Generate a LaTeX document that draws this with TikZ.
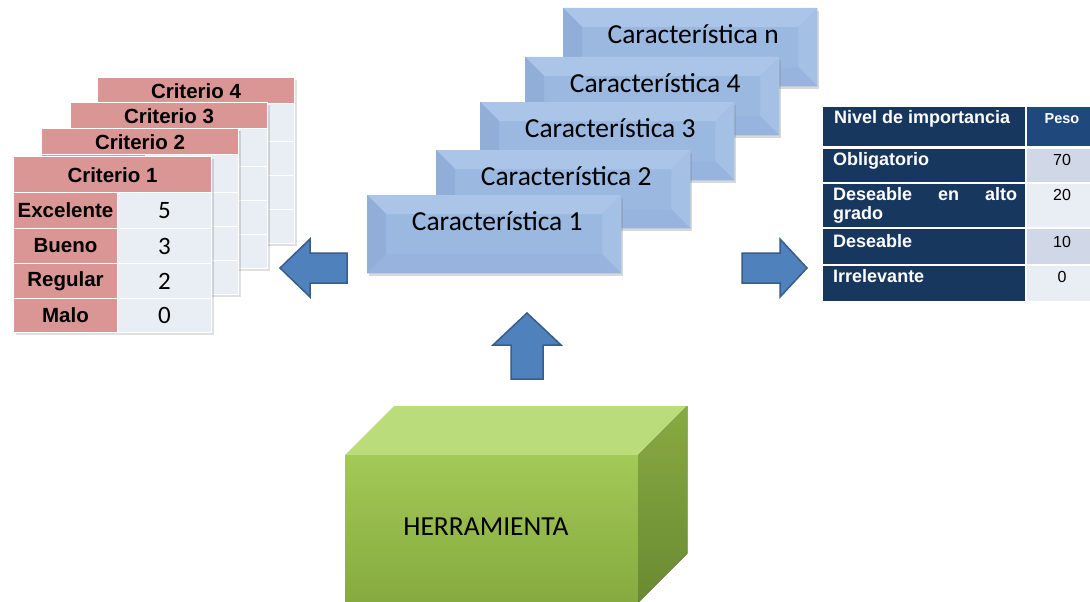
\documentclass[tikz,border=0pt]{standalone}
\usepackage{fontspec}
\setmainfont{Liberation Sans}
\newfontfamily\calib{Carlito}
\usetikzlibrary{calc,shadows}

\definecolor{pinkcell}{HTML}{D99694}
\definecolor{palecell}{HTML}{E9EDF4}
\definecolor{navycell}{HTML}{17375E}
\definecolor{navyhead}{HTML}{1F497D}
\definecolor{rowdark}{HTML}{D0D8E8}
\definecolor{rowlight}{HTML}{E9EDF4}
\definecolor{arrowfill}{HTML}{4F81BD}
\definecolor{arrowline}{HTML}{385D8A}
\definecolor{featmain}{HTML}{9BB9E0}
\definecolor{feattop}{HTML}{ABC5E8}
\definecolor{featleft}{HTML}{90AED7}
\definecolor{featright}{HTML}{A4C0E5}
\definecolor{featbottom}{HTML}{96B4DD}
\definecolor{greentop}{HTML}{BBDC7A}
\definecolor{greenfronta}{HTML}{A3C957}
\definecolor{greenfrontb}{HTML}{86AA3F}
\definecolor{greensidea}{HTML}{88AA42}
\definecolor{greensideb}{HTML}{6A8A32}

\tikzset{
  cellbox/.style={anchor=north west, inner sep=0pt, draw=white, line width=1pt},
  pinkbox/.style={cellbox, fill=pinkcell},
  palebox/.style={cellbox, fill=palecell},
  hdrfont/.style={font=\bfseries\fontsize{20.5}{24}\selectfont},
  lblfont/.style={font=\bfseries\fontsize{20.5}{24}\selectfont},
  numfont/.style={font=\calib\fontsize{25}{29}\selectfont},
  tshadow/.style={fill=black, opacity=0.12},
  featbody/.style={anchor=north west, inner sep=0pt, minimum width=254pt, minimum height=78pt,
    fill=featmain, drop shadow={shadow xshift=2pt, shadow yshift=-3pt, opacity=0.3}},
  feattext/.style={font=\calib\fontsize{27.5}{32}\selectfont, inner sep=0pt},
  blockarrow/.style={fill=arrowfill, draw=arrowline, line width=1.5pt, line join=miter},
  rcell/.style={anchor=north west, inner sep=0pt},
  rtext/.style={anchor=base west, inner sep=0pt, text=white, font=\bfseries\fontsize{18}{20}\selectfont},
  rnum/.style={anchor=base, inner sep=0pt, font=\fontsize{16}{19}\selectfont},
}

% criterion table seen behind the front one
\newcommand\backtable[4]{%
  \begin{scope}[shift={(#2,#3)}]
    \fill[tshadow] (3,3) rectangle (200,169);
    \node[pinkbox, minimum width=197pt, minimum height=26pt] (#1h) at (0,0) {};
    \node[hdrfont] at ($(#1h.center)+(0,1)$) {#4};
    \node[pinkbox, minimum width=104pt, minimum height=38pt] (#1a) at (0,26) {};
    \node[palebox, minimum width=93pt, minimum height=38pt] (#1av) at (104,26) {};
    \node[pinkbox, minimum width=104pt, minimum height=34pt] (#1b) at (0,64) {};
    \node[palebox, minimum width=93pt, minimum height=34pt] (#1bv) at (104,64) {};
    \node[pinkbox, minimum width=104pt, minimum height=34pt] (#1c) at (0,98) {};
    \node[palebox, minimum width=93pt, minimum height=34pt] (#1cv) at (104,98) {};
    \node[pinkbox, minimum width=104pt, minimum height=34pt] (#1d) at (0,132) {};
    \node[palebox, minimum width=93pt, minimum height=34pt] (#1dv) at (104,132) {};
  \end{scope}}

% bevelled feature box
\newcommand\featurebox[4]{%
  \node[featbody] (#1) at (#2,#3) {};
  \fill[feattop] (#1.north west) -- (#1.north east) -- ($(#1.north east)+(-19,19)$) -- ($(#1.north west)+(19,19)$) -- cycle;
  \fill[featleft] (#1.north west) -- ($(#1.north west)+(19,19)$) -- ($(#1.south west)+(19,-19)$) -- (#1.south west) -- cycle;
  \fill[featright] (#1.north east) -- (#1.south east) -- ($(#1.south east)+(-19,-19)$) -- ($(#1.north east)+(-19,19)$) -- cycle;
  \fill[featbottom] (#1.south west) -- (#1.south east) -- ($(#1.south east)+(-19,-19)$) -- ($(#1.south west)+(19,-19)$) -- cycle;
  \node[feattext] (#1t) at ($(#1.north)+(3,26)$) {#4};}

\begin{document}
\begin{tikzpicture}[x=1pt, y=-1pt]
\useasboundingbox[fill=white] (0,0) rectangle (1090,602);

% ---- criterion tables ----
\backtable{crit4}{97}{77}{Criterio 4}
\backtable{crit3}{70}{102}{Criterio 3}
\backtable{crit2}{41}{128}{Criterio 2}

\begin{scope}[shift={(13,156)}]
  \fill[tshadow] (3,3) rectangle (201,179);
  \node[pinkbox, minimum width=198pt, minimum height=36pt] (c1h) at (0,0) {};
  \node[hdrfont] (c1ht) at ($(c1h.center)+(0,1)$) {Criterio 1};
  \node[pinkbox, minimum width=104pt, minimum height=36pt] (c1a) at (0,36) {};
  \node[palebox, minimum width=94pt, minimum height=36pt] (c1av) at (104,36) {};
  \node[pinkbox, minimum width=104pt, minimum height=35pt] (c1b) at (0,72) {};
  \node[palebox, minimum width=94pt, minimum height=35pt] (c1bv) at (104,72) {};
  \node[pinkbox, minimum width=104pt, minimum height=35pt] (c1c) at (0,107) {};
  \node[palebox, minimum width=94pt, minimum height=35pt] (c1cv) at (104,107) {};
  \node[pinkbox, minimum width=104pt, minimum height=34pt] (c1d) at (0,142) {};
  \node[palebox, minimum width=94pt, minimum height=34pt] (c1dv) at (104,142) {};
  \node[lblfont] (l1) at (c1a.center) {Excelente};
  \node[lblfont] (l2) at (c1b.center) {Bueno};
  \node[lblfont] (l3) at (c1c.center) {Regular};
  \node[lblfont] (l4) at (c1d.center) {Malo};
  \node[numfont] (n1) at (c1av.center) {5};
  \node[numfont] (n2) at (c1bv.center) {3};
  \node[numfont] (n3) at (c1cv.center) {2};
  \node[numfont] (n4) at (c1dv.center) {0};
\end{scope}

% ---- feature boxes ----
\featurebox{featn}{563}{8}{Característica n}
\featurebox{feat4}{525}{57}{Característica 4}
\featurebox{feat3}{480}{102}{Característica 3}
\featurebox{feat2}{436}{150}{Característica 2}
\featurebox{feat1}{367}{195}{Característica 1}

% ---- importance table ----
\node[rcell, fill=navycell, minimum width=202pt, minimum height=39pt] (hl) at (823,107) {};
\node[rcell, fill=navyhead, minimum width=63pt, minimum height=39pt] (hr) at (1027,107) {};
\node[rcell, fill=navycell, minimum width=202pt, minimum height=33pt] (r1l) at (823,149) {};
\node[rcell, fill=rowdark, minimum width=63pt, minimum height=33pt] (r1r) at (1027,149) {};
\node[rcell, fill=navycell, minimum width=202pt, minimum height=43pt] (r2l) at (823,184) {};
\node[rcell, fill=rowlight, minimum width=63pt, minimum height=43pt] (r2r) at (1027,184) {};
\node[rcell, fill=navycell, minimum width=202pt, minimum height=35pt] (r3l) at (823,229) {};
\node[rcell, fill=rowdark, minimum width=63pt, minimum height=35pt] (r3r) at (1027,229) {};
\node[rcell, fill=navycell, minimum width=202pt, minimum height=35pt] (r4l) at (823,266) {};
\node[rcell, fill=rowlight, minimum width=63pt, minimum height=35pt] (r4r) at (1027,266) {};

\node[rtext] (ht) at (834,123) {Nivel de importancia};
\node[rnum, text=white, font=\bfseries\fontsize{14.5}{17}\selectfont] (pt) at (1062,123) {Peso};
\node[rtext] (t1) at (833,165) {Obligatorio};
\node[rtext, anchor=north west, text width=184pt, align=left] (t2) at (833,187) {Deseable\hfill en\hfill alto\\[-1pt]grado};
\node[rtext] (t3) at (833,247) {Deseable};
\node[rtext] (t4) at (833,282) {Irrelevante};
\node[rnum] (v1) at (1062,165) {70};
\node[rnum] (v2) at (1062,200) {20};
\node[rnum] (v3) at (1062,247) {10};
\node[rnum] (v4) at (1062,282) {0};

% ---- block arrows ----
\draw[blockarrow] (280,268) -- (310,239) -- (310,253) -- (347,253) -- (347,283) -- (310,283) -- (310,297) -- cycle;
\draw[blockarrow] (527,313) -- (561,345) -- (543,345) -- (543,379) -- (511,379) -- (511,345) -- (493,345) -- cycle;
\draw[blockarrow] (807,268) -- (780,239) -- (780,253) -- (742,253) -- (742,283) -- (780,283) -- (780,297) -- cycle;

% ---- tool block ----
\node[anchor=north west, inner sep=0pt, minimum width=293pt, minimum height=147pt,
      top color=greenfronta, bottom color=greenfrontb] (tool) at (345,455) {};
\fill[greentop] (tool.north west) -- ($(tool.north west)+(49,-49)$) -- ($(tool.north east)+(49,-49)$) -- (tool.north east) -- cycle;
\fill[top color=greensidea, bottom color=greensideb] (tool.north east) -- ($(tool.north east)+(49,-49)$) -- ($(tool.south east)+(49,-49)$) -- (tool.south east) -- cycle;
\node[feattext, font=\calib\fontsize{27.5}{32}\selectfont] (toolt) at (486,527) {HERRAMIENTA};
\end{tikzpicture}
\end{document}
